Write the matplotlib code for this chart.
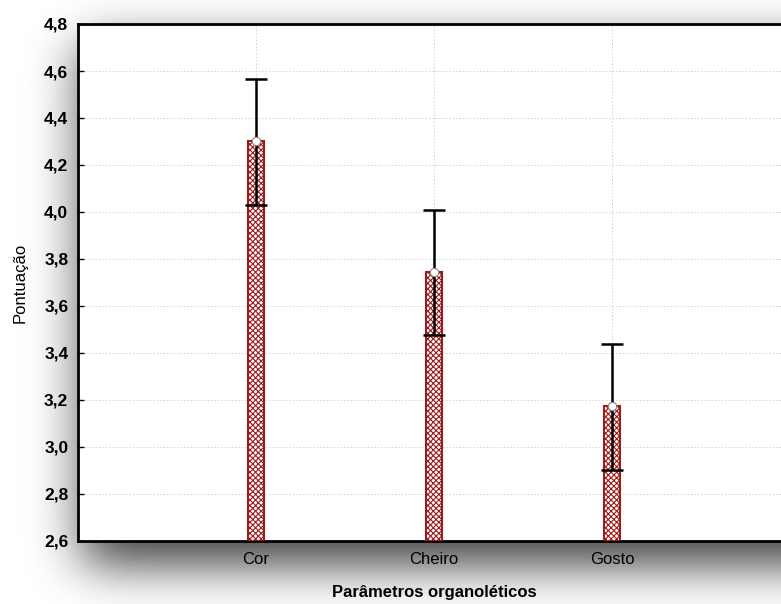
import numpy as np
import matplotlib
matplotlib.use("Agg")
import matplotlib.pyplot as plt

categories = ["Cor", "Cheiro", "Gosto"]
means = [4.30, 3.745, 3.175]
upper = [4.567, 4.01, 3.44]
lower = [4.03, 3.478, 2.902]
yticks = [2.6, 2.8, 3.0, 3.2, 3.4, 3.6, 3.8, 4.0, 4.2, 4.4, 4.6, 4.8]

plt.rcParams['font.family'] = ['Liberation Sans', 'DejaVu Sans']
W, H = 781, 604
fig = plt.figure(figsize=(W/100, H/100), dpi=100)

# axes box in pixels
L, R, T, B = 78, 790, 24, 541
# background shadow
bg = fig.add_axes([0, 0, 1, 1], zorder=0)
bg.set_axis_off()
mask = np.zeros((H, W))
mask[T+20:B+24, L+5:W] = 1.0
def blur1d(a, sigma, axis):
    r = int(3*sigma)
    k = np.exp(-0.5*(np.arange(-r, r+1)/sigma)**2); k /= k.sum()
    pad = [(0, 0), (0, 0)]; pad[axis] = (r, r)
    ap = np.pad(a, pad, mode='edge')
    return np.apply_along_axis(lambda v: np.convolve(v, k, mode='valid'), axis, ap)
m = blur1d(blur1d(mask, 24, 0), 26, 1)
img = 1 - 0.75*m
bg.imshow(img, cmap='gray', vmin=0, vmax=1, extent=[0, W, H, 0], aspect='auto', interpolation='bilinear')
bg.set_xlim(0, W); bg.set_ylim(H, 0)

ax = fig.add_axes([L/W, (H-B)/H, (R-L)/W, (B-T)/H], zorder=1)
ax.set_facecolor('white')
x = np.arange(1, len(categories)+1)
plt.rcParams['hatch.linewidth'] = 0.8
ax.bar(x, [m_ - 2.6 for m_ in means], bottom=2.6, width=0.09, facecolor='white',
       edgecolor='#9b1c1c', hatch='xxxxxx', linewidth=1.5, zorder=3)
yerr = np.array([[mm - lo for mm, lo in zip(means, lower)], [up - mm for mm, up in zip(means, upper)]])
ax.errorbar(x, means, yerr=yerr, fmt='none', ecolor='black', elinewidth=1.8, capsize=8, capthick=1.8, zorder=4)
ax.plot(x, means, 'o', markerfacecolor='white', markeredgecolor='#888888', markersize=6, markeredgewidth=0.8, zorder=5)

ax.set_xlim(0, 4)
ax.set_ylim(2.6, 4.8)
ax.set_xticks(x)
ax.set_xticklabels(categories, fontsize=12)
ax.set_yticks(yticks)
ax.set_yticklabels([f"{v:.1f}".replace('.', ',') for v in yticks], fontsize=12.5, fontweight='bold')
ax.tick_params(axis='both', direction='in', length=4, width=1, pad=7)
ax.tick_params(axis='x', pad=8)
ax.grid(True, linestyle=(0, (1.5, 2)), color='#d2d2d2', linewidth=0.7, zorder=0)
ax.set_axisbelow(True)
for s in ['left', 'bottom', 'top', 'right']:
    ax.spines[s].set_linewidth(2)
    ax.spines[s].set_color('black')
ax.set_ylabel("Pontuação", fontsize=12, labelpad=12)
ax.set_xlabel("Parâmetros organoléticos", fontsize=12, fontweight='bold', labelpad=13)

fig.savefig("out.png", dpi=100)
